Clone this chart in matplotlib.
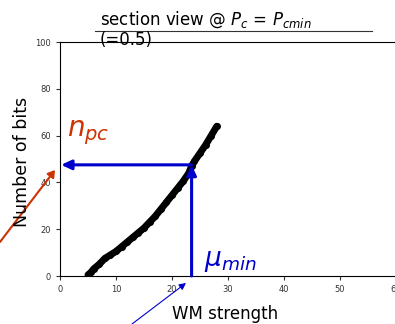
import matplotlib
matplotlib.use("Agg")
import matplotlib.pyplot as plt

# curve: WM strength vs number of bits
wm_strength = [5.0, 5.5, 6, 7, 8, 9, 10, 11, 12, 13, 14, 15, 16, 17, 18, 19, 20,
               21, 22, 23, 23.5, 24, 25, 26, 27, 28]
n_bits = [0.5, 1.5, 3, 5, 7.5, 9, 10.5, 12.5, 14.5, 16.5, 18.5, 20.5, 23, 25.5,
          28.5, 31.5, 34.5, 37.5, 40.5, 44, 47, 49, 52.5, 56, 60, 64]

mu_min = 23.5
n_pc = 47.5

x_ticks = [0, 10, 20, 30, 40, 50, 60]
y_ticks = [0, 20, 40, 60, 80, 100]

blue = "#0000CC"
orange = "#CC3300"

fig = plt.figure(figsize=(3.95, 3.24), dpi=100)
ax = fig.add_axes([60 / 395, 48 / 324, 336 / 395, 234 / 324])

ax.plot(wm_strength, n_bits, color="black", linewidth=5, solid_capstyle="round",
        marker="o", markersize=4, zorder=3)

# arrows at mu_min / n_pc
ax.annotate("", xy=(0.2, n_pc), xytext=(mu_min, n_pc),
            arrowprops=dict(arrowstyle="-|>,head_length=0.6,head_width=0.28",
                            color=blue, lw=2.2, shrinkA=0, shrinkB=0), zorder=4)
ax.annotate("", xy=(mu_min, n_pc), xytext=(mu_min, 0),
            arrowprops=dict(arrowstyle="-|>,head_length=0.6,head_width=0.28",
                            color=blue, lw=2.2, shrinkA=0, shrinkB=0), zorder=4)

ax.set_xlim(0, 60)
ax.set_ylim(0, 100)
ax.set_xticks(x_ticks)
ax.set_yticks(y_ticks)
ax.tick_params(labelsize=6, colors="#333333", length=3, width=0.8)
for s in ax.spines.values():
    s.set_linewidth(0.8)

ax.text(1.3, 55, r"$n_{pc}$", color=orange, fontsize=20, ha="left", va="bottom")
ax.text(25.8, 1, r"$\mu_{min}$", color=blue, fontsize=19, ha="left", va="bottom")

fig.text(225 / 395, 1 - 314 / 324, "WM strength", fontsize=12, ha="center", va="center")
fig.text(22 / 395, 1 - 162 / 324, "Number of bits", fontsize=12.5, rotation=90,
         ha="center", va="center")

fig.text(100 / 395, 1 - 20 / 324, r"section view @ $P_c$ = $P_{cmin}$", fontsize=12,
         ha="left", va="center")
fig.text(100 / 395, 1 - 40 / 324, "(=0.5)", fontsize=12, ha="left", va="center")
fig.add_artist(plt.Line2D([95 / 395, 372 / 395], [1 - 31 / 324, 1 - 31 / 324],
                          color="#333333", lw=0.8))

# pointer arrows outside the axes
fig.add_artist(matplotlib.patches.FancyArrowPatch(
    (0 / 395, 1 - 242 / 324), (55 / 395, 1 - 170 / 324), transform=fig.transFigure,
    arrowstyle="-|>,head_length=4,head_width=2.5", color=orange, lw=1.5,
    shrinkA=0, shrinkB=0))
fig.add_artist(matplotlib.patches.FancyArrowPatch(
    (132 / 395, 1 - 324 / 324), (186 / 395, 1 - 283 / 324), transform=fig.transFigure,
    arrowstyle="-|>,head_length=4,head_width=2", color=blue, lw=0.8,
    shrinkA=0, shrinkB=0))

fig.savefig("out.png", dpi=100)
